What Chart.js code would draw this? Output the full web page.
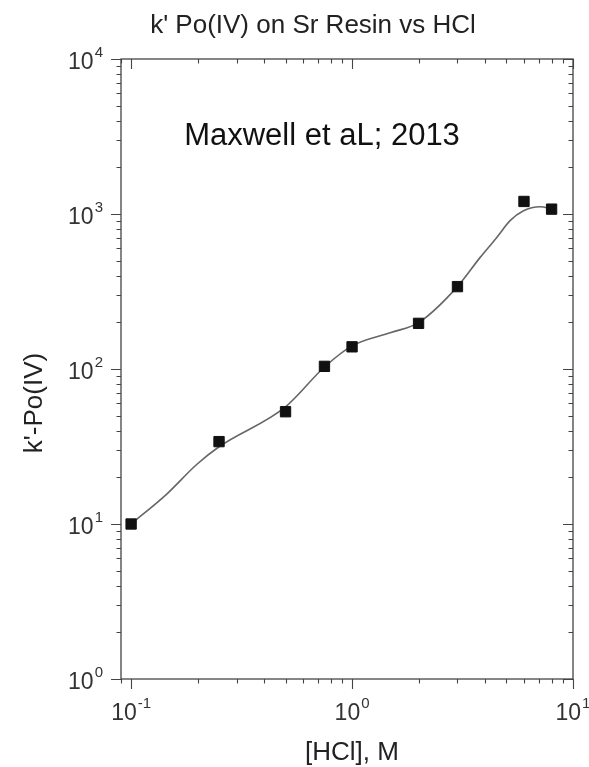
<!DOCTYPE html>
<html>
<head>
<meta charset="utf-8">
<script src="https://cdn.jsdelivr.net/npm/chart.js@4.4.1/dist/chart.umd.min.js"></script>
<style>
    html, body { margin: 0; padding: 0; background: #fff; }
    #wrap { width: 589px; height: 767px; }
</style>
</head>
<body>
<div id="wrap"><canvas id="kpoChart" width="589" height="767"></canvas></div>
<script>
// measured k' values (squares)
var hclConc = [0.1, 0.25, 0.5, 0.75, 1, 2, 3, 6, 8];
var kPo = [10, 34, 53, 104, 139, 197, 340, 1205, 1075];

// fitted curve
var curveHcl = [0.1, 0.145, 0.198, 0.25, 0.5, 0.75, 1.0, 1.5, 2.0, 3.0, 3.8, 4.52, 5.19, 5.97, 7.1, 8.02];
var curveK = [10, 15.6, 24.2, 31.5, 57, 103, 141, 172, 199, 340, 525, 706, 906, 1050, 1114, 1077];

// decade tick labels (exponents of 10)
var xTickExp = [-1, 0, 1];
var yTickExp = [0, 1, 2, 3, 4];

var FONT = "'Liberation Sans', Arial, Helvetica, sans-serif";

function toPoints(xs, ys) {
    return xs.map(function(v, i) { return { x: v, y: ys[i] }; });
}

// draws "10" with a raised exponent; align 'center' or 'right'
function drawPow(ctx, exp, px, baseY, align) {
    ctx.font = '23px ' + FONT;
    var wBase = ctx.measureText('10').width;
    ctx.font = '15px ' + FONT;
    var sup = String(exp);
    var wSup = ctx.measureText(sup).width;
    var total = wBase + 1 + wSup;
    var left = align === 'center' ? px - total / 2 : px - total;
    ctx.textAlign = 'left';
    ctx.textBaseline = 'alphabetic';
    ctx.font = '23px ' + FONT;
    ctx.fillText('10', left, baseY);
    ctx.font = '15px ' + FONT;
    ctx.fillText(sup, left + wBase + 1, baseY - 12);
}

var framePlugin = {
    id: 'frame',
    afterDraw: function(chart) {
        var ctx = chart.ctx;
        var a = chart.chartArea;
        var xs = chart.scales.x;
        var ys = chart.scales.y;
        ctx.save();

        // box
        ctx.strokeStyle = '#444';
        ctx.lineWidth = 1.3;
        ctx.strokeRect(a.left, a.top, a.right - a.left, a.bottom - a.top);

        // tick marks: outward on left/bottom, inward on top/right
        ctx.lineWidth = 1.1;
        ctx.beginPath();
        var e, m, v, p, len;
        for (e = -2; e <= 1; e++) {
            for (m = 1; m <= 9; m++) {
                v = m * Math.pow(10, e);
                if (v < xs.min * 0.999 || v > xs.max * 1.001) continue;
                p = Math.round(xs.getPixelForValue(v)) + 0.5;
                len = m === 1 ? 10 : 4.5;
                ctx.moveTo(p, a.bottom); ctx.lineTo(p, a.bottom + len);
                ctx.moveTo(p, a.top); ctx.lineTo(p, a.top + len);
            }
        }
        for (e = 0; e <= 4; e++) {
            for (m = 1; m <= 9; m++) {
                v = m * Math.pow(10, e);
                if (v < ys.min * 0.999 || v > ys.max * 1.001) continue;
                p = Math.round(ys.getPixelForValue(v)) + 0.5;
                len = m === 1 ? 10 : 4.5;
                ctx.moveTo(a.left, p); ctx.lineTo(a.left - len, p);
                ctx.moveTo(a.right, p); ctx.lineTo(a.right - len, p);
            }
        }
        ctx.stroke();

        // decade labels
        ctx.fillStyle = '#333';
        xTickExp.forEach(function(ex) {
            drawPow(ctx, ex, xs.getPixelForValue(Math.pow(10, ex)), a.bottom + 41, 'center');
        });
        yTickExp.forEach(function(ex) {
            drawPow(ctx, ex, a.left - 18, ys.getPixelForValue(Math.pow(10, ex)) + 10, 'right');
        });

        // titles
        ctx.fillStyle = '#222';
        ctx.textAlign = 'center';
        ctx.textBaseline = 'alphabetic';
        ctx.font = '26px ' + FONT;
        ctx.fillText("k' Po(IV) on Sr Resin vs HCl", 313, a.top - 26);
        ctx.fillText('[HCl], M', 352, a.bottom + 81);

        ctx.save();
        ctx.translate(35, 403);
        ctx.rotate(-Math.PI / 2);
        ctx.textBaseline = 'middle';
        ctx.fillText("k'-Po(IV)", 0, 0);
        ctx.restore();

        ctx.fillStyle = '#111';
        ctx.font = '31px ' + FONT;
        ctx.fillText('Maxwell et aL; 2013', 322, a.top + 86);

        ctx.restore();
    }
};

new Chart(document.getElementById('kpoChart').getContext('2d'), {
    type: 'scatter',
    data: {
        datasets: [
            {
                label: 'k\' Po(IV)',
                data: toPoints(hclConc, kPo),
                pointStyle: 'rect',
                pointRadius: 7.3,
                pointBackgroundColor: '#111',
                pointBorderColor: '#111',
                pointBorderWidth: 1,
                showLine: false
            },
            {
                label: 'fit',
                data: toPoints(curveHcl, curveK),
                showLine: true,
                pointRadius: 0,
                borderColor: '#666',
                borderWidth: 1.6,
                cubicInterpolationMode: 'monotone',
                fill: false
            }
        ]
    },
    options: {
        responsive: false,
        animation: false,
        layout: { padding: { left: 121, top: 59, right: 16, bottom: 88 } },
        plugins: {
            legend: { display: false },
            title: { display: false },
            tooltip: { enabled: false }
        },
        scales: {
            x: {
                type: 'logarithmic',
                min: 0.09,
                max: 10,
                grid: { display: false, drawTicks: false },
                border: { display: false },
                ticks: { display: false }
            },
            y: {
                type: 'logarithmic',
                min: 1,
                max: 10000,
                grid: { display: false, drawTicks: false },
                border: { display: false },
                ticks: { display: false }
            }
        }
    },
    plugins: [framePlugin]
});
</script>
</body>
</html>
